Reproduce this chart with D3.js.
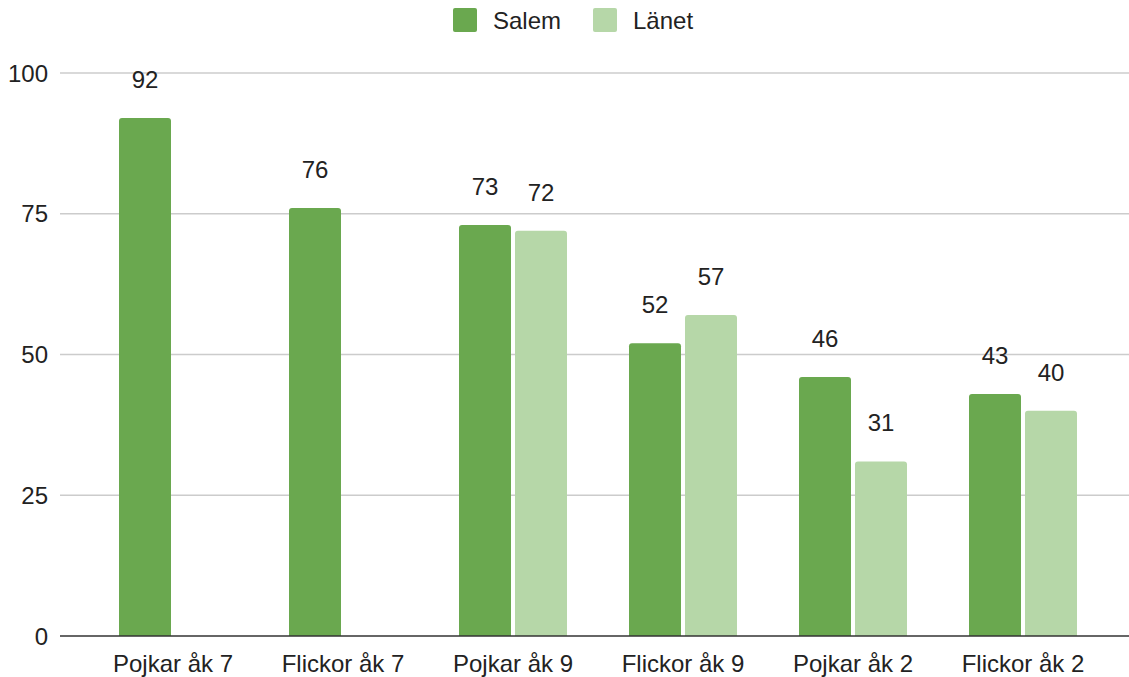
<!DOCTYPE html>
<html>
<head>
<meta charset="utf-8">
<script src="https://cdn.jsdelivr.net/npm/d3@7"></script>
<style>
  body { margin: 0; background: #fff; }
  svg text { font-family: "Liberation Sans", Arial, sans-serif; fill: #222; }
</style>
</head>
<body>
<svg id="chart" width="1129" height="677"></svg>
<script>
var categories = ["Pojkar åk 7", "Flickor åk 7", "Pojkar åk 9", "Flickor åk 9", "Pojkar åk 2", "Flickor åk 2"];
var series = ["Salem", "Länet"];
var salem = [92, 76, 73, 52, 46, 43];
var lanet = [null, null, 72, 57, 31, 40];
var yTicks = [0, 25, 50, 75, 100];
var colors = ["#6aa84f", "#b6d7a8"];

var svg = d3.select("#chart");

var x0 = d3.scaleBand().domain(categories).range([88, 1108]);
var x1 = d3.scaleBand().domain(series).range([-54, 54]).paddingInner(0.0714);
var y = d3.scaleLinear().domain([0, 100]).range([636, 73]);

// gridlines
svg.append("g").selectAll("line")
  .data(yTicks.filter(d => d > 0))
  .enter().append("line")
  .attr("x1", 60).attr("x2", 1129)
  .attr("y1", d => y(d)).attr("y2", d => y(d))
  .attr("stroke", "#cccccc").attr("stroke-width", 1.5);

// y labels
svg.append("g").selectAll("text")
  .data(yTicks)
  .enter().append("text")
  .attr("x", 48).attr("y", d => y(d))
  .attr("dy", "0.36em")
  .attr("text-anchor", "end")
  .style("font-size", "24px")
  .text(d => d);

var rows = [];
categories.forEach((c, i) => {
  rows.push({cat: c, s: 0, v: salem[i]});
  if (lanet[i] != null) rows.push({cat: c, s: 1, v: lanet[i]});
});

// bars with rounded top corners
function barPath(d) {
  var bx = x0(d.cat) + x0.bandwidth() / 2 + x1(series[d.s]);
  var w = x1.bandwidth(), top = y(d.v), bot = y(0), r = 3;
  return "M" + bx + "," + bot + "V" + (top + r) + "Q" + bx + "," + top + " " + (bx + r) + "," + top +
    "H" + (bx + w - r) + "Q" + (bx + w) + "," + top + " " + (bx + w) + "," + (top + r) + "V" + bot + "Z";
}

svg.append("g").selectAll("path")
  .data(rows)
  .enter().append("path")
  .attr("d", barPath)
  .attr("fill", d => colors[d.s]);

svg.append("g").selectAll("text")
  .data(rows)
  .enter().append("text")
  .attr("x", d => x0(d.cat) + x0.bandwidth() / 2 + x1(series[d.s]) + x1.bandwidth() / 2)
  .attr("y", d => y(d.v) - 30)
  .attr("text-anchor", "middle")
  .style("font-size", "24px")
  .text(d => d.v);

// baseline
svg.append("line")
  .attr("x1", 60).attr("x2", 1129)
  .attr("y1", y(0)).attr("y2", y(0))
  .attr("stroke", "#333").attr("stroke-width", 1.5);

// x labels
svg.append("g").selectAll("text")
  .data(categories)
  .enter().append("text")
  .attr("x", d => x0(d) + x0.bandwidth() / 2)
  .attr("y", 672)
  .attr("text-anchor", "middle")
  .style("font-size", "24px")
  .text(d => d);

// legend
var legend = svg.append("g").selectAll("g")
  .data(series)
  .enter().append("g")
  .attr("transform", (d, i) => "translate(" + (453 + i * 140) + ",8)");
legend.append("rect")
  .attr("width", 24).attr("height", 24).attr("rx", 2)
  .attr("fill", (d, i) => colors[i]);
legend.append("text")
  .attr("x", 40).attr("y", 12).attr("dy", "0.36em")
  .style("font-size", "24px")
  .text(d => d);
</script>
</body>
</html>
